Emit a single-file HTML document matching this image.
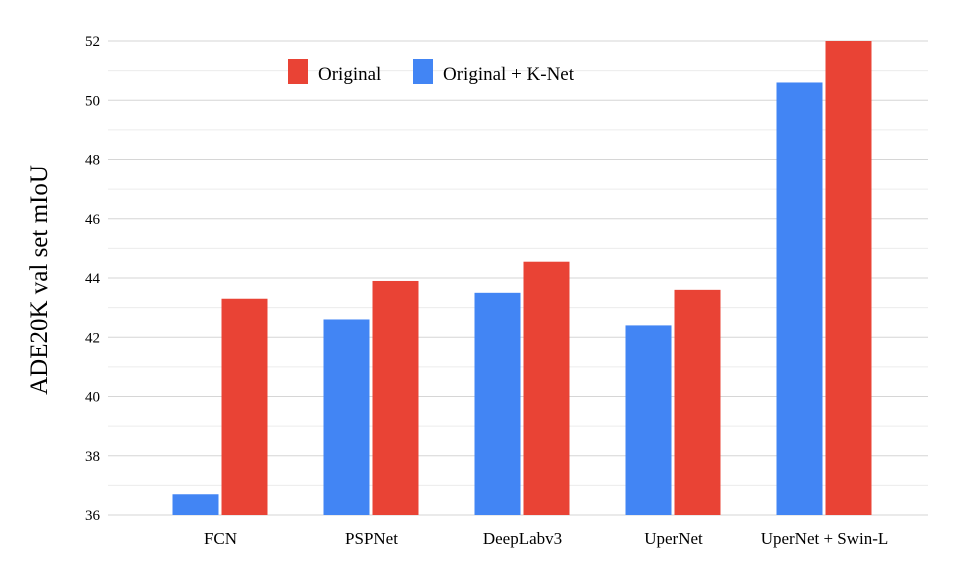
<!DOCTYPE html>
<html><head><meta charset="utf-8"><style>
body{margin:0;background:#fff}
svg{font-family:"Liberation Serif",serif}
</style></head><body>
<svg id="chart" width="974" height="560">
<g id="grid"></g><g id="bars"></g><g id="labels"></g>
<text transform="translate(47,280) rotate(-90)" text-anchor="middle" font-size="25" fill="#000">ADE20K val set mIoU</text>
<g>
<rect x="288" y="59" width="20" height="25" fill="#e94335"/>
<text x="318" y="80" font-size="19">Original</text>
<rect x="413" y="59" width="20" height="25" fill="#4285f4"/>
<text x="443" y="80" font-size="19">Original + K-Net</text>
</g>
</svg>
<script>
const categories=["FCN","PSPNet","DeepLabv3","UperNet","UperNet + Swin-L"];
const knetValues=[36.7,42.6,43.5,42.4,50.6];
const originalValues=[43.3,43.9,44.55,43.6,52.0];
const yTicks=[36,38,40,42,44,46,48,50,52];
const NS="http://www.w3.org/2000/svg";
const yMin=36,yMax=52,yTop=41,yBot=515,xL=108,xR=928,x0=145,step=151;
const y=v=>yBot-(v-yMin)/(yMax-yMin)*(yBot-yTop);
const xc=i=>x0+step*(i+0.5);
function mk(t,a,p){const e=document.createElementNS(NS,t);for(const k in a)e.setAttribute(k,a[k]);p.appendChild(e);return e;}
const grid=document.getElementById('grid'),bars=document.getElementById('bars'),labels=document.getElementById('labels');
for(let v=yMin;v<=yMax;v++){
 const l=mk('line',{x1:xL,x2:xR,y1:y(v),y2:y(v),stroke:v%2?'#ececec':'#d6d6d6','stroke-width':1},grid);
 
 
}
yTicks.forEach(v=>{
 const t=mk('text',{x:100,y:y(v)+5,'text-anchor':'end','font-size':15},labels);t.textContent=v;
 
 
});
categories.forEach((c,i)=>{
 const b=mk('rect',{x:xc(i)-48,y:y(knetValues[i]),width:46,height:yBot-y(knetValues[i]),fill:'#4285f4'},bars);
 
 
 const r=mk('rect',{x:xc(i)+1,y:y(originalValues[i]),width:46,height:yBot-y(originalValues[i]),fill:'#e94335'},bars);
 
 
 const t=mk('text',{x:xc(i),y:544,'text-anchor':'middle','font-size':17},labels);t.textContent=c;
 
 
});
</script>
</body></html>
